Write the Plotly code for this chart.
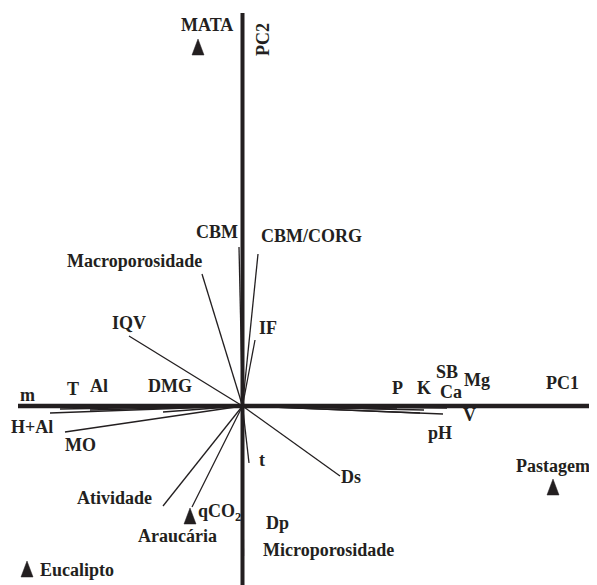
import plotly.graph_objects as go

# ---- data (units = PC score/loading scale) ----
variables = ["CBM", "CBM/CORG", "Macroporosidade", "IQV", "IF", "m", "T", "Al", "DMG",
             "H+Al", "MO", "Atividade", "qCO2", "t", "Ds", "pH", "V", "P", "K", "Ca",
             "SB", "Mg", "Dp", "Microporosidade"]
pc1 = [-0.035, 0.155, -0.405, -1.135, 0.125, -2.245, -1.825, -1.525, -0.795,
       -1.925, -1.775, -0.795, -0.505, 0.065, 0.975, 2.005, 1.775, 1.545, 1.815, 2.045,
       2.045, 2.045, 0.0, 0.01]
pc2 = [1.59, 1.52, 1.32, 0.70, 0.66, -0.01, -0.03, -0.04, -0.06,
       -0.07, -0.26, -1.00, -1.01, -0.57, -0.70, -0.08, -0.07, -0.03, -0.04, -0.01,
       0.01, -0.02, -1.20, -1.50]

sites = ["MATA", "Araucária", "Pastagem", "Eucalipto"]
site_pc1 = [-0.445, -0.525, 3.105, -2.155]
site_pc2 = [3.59, -1.10, -0.81, -1.63]

# ---- layout / styling (label placement in axis units) ----
label_text = {"qCO2": "qCO<sub>2</sub>"}
label_pos = {
    "CBM": (-0.255, 1.74), "CBM/CORG": (0.685, 1.70), "Macroporosidade": (-1.085, 1.45),
    "IQV": (-1.135, 0.83), "IF": (0.255, 0.78), "DMG": (-0.725, 0.20), "Al": (-1.435, 0.20),
    "T": (-1.695, 0.17), "m": (-2.155, 0.11), "H+Al": (-2.105, -0.21), "MO": (-1.625, -0.39),
    "P": (1.545, 0.18), "K": (1.815, 0.18), "SB": (2.045, 0.34), "Ca": (2.085, 0.14),
    "Mg": (2.345, 0.26), "V": (2.265, -0.09), "pH": (1.975, -0.27), "t": (0.195, -0.54),
    "Ds": (1.085, -0.71), "Atividade": (-1.285, -0.92), "qCO2": (-0.235, -1.06),
    "Dp": (0.345, -1.17), "Microporosidade": (0.855, -1.44),
}
site_label_pos = {"MATA": (-0.355, 3.81), "Araucária": (-0.655, -1.30),
                  "Pastagem": (3.105, -0.60), "Eucalipto": (-1.655, -1.64)}

# the page adds an 8px body margin, so the figure covers the picture from (8, 8)
XR = [-2.345, 3.545]
YR = [-1.79, 3.98]
INK = "#231f20"
FONT = dict(family="Liberation Serif, Times New Roman, serif", size=18, color=INK)
TRI_W, TRI_H = 0.06, 0.08   # half-width, half-height of site triangles

fig = go.Figure()

# PCA axes
fig.add_trace(go.Scatter(x=[-2.245, 3.50], y=[0, 0], mode="lines",
                         line=dict(color=INK, width=4.5), hoverinfo="skip", showlegend=False))
fig.add_trace(go.Scatter(x=[0, 0], y=[3.93, YR[0]], mode="lines",
                         line=dict(color=INK, width=4), hoverinfo="skip", showlegend=False))

# variable vectors
for name, x, y in zip(variables, pc1, pc2):
    fig.add_trace(go.Scatter(x=[0, x], y=[0, y], mode="lines", name=name,
                             line=dict(color=INK, width=1.3), showlegend=False))

# site triangles
for name, x, y in zip(sites, site_pc1, site_pc2):
    fig.add_trace(go.Scatter(x=[x - TRI_W, x + TRI_W, x, x - TRI_W],
                             y=[y - TRI_H, y - TRI_H, y + TRI_H, y - TRI_H],
                             mode="lines", fill="toself", fillcolor=INK,
                             line=dict(color=INK, width=0.5), name=name, showlegend=False))

annotations = []
for name in variables:
    lx, ly = label_pos[name]
    annotations.append(dict(x=lx, y=ly, text="<b>%s</b>" % label_text.get(name, name),
                            showarrow=False, font=FONT, xanchor="center", yanchor="middle"))
for name in sites:
    lx, ly = site_label_pos[name]
    annotations.append(dict(x=lx, y=ly, text="<b>%s</b>" % name, showarrow=False,
                            font=FONT, xanchor="center", yanchor="middle"))
annotations.append(dict(x=3.195, y=0.23, text="<b>PC1</b>", showarrow=False, font=FONT))
annotations.append(dict(x=0.205, y=3.66, text="<b>PC2</b>", showarrow=False, font=FONT,
                        textangle=-90))

fig.update_layout(
    width=589, height=577, autosize=False,
    margin=dict(l=0, r=0, t=0, b=0),
    paper_bgcolor="white", plot_bgcolor="white",
    xaxis=dict(range=XR, visible=False, fixedrange=True),
    yaxis=dict(range=YR, visible=False, fixedrange=True),
    annotations=annotations,
    showlegend=False,
)

fig.write_html("out.html")
